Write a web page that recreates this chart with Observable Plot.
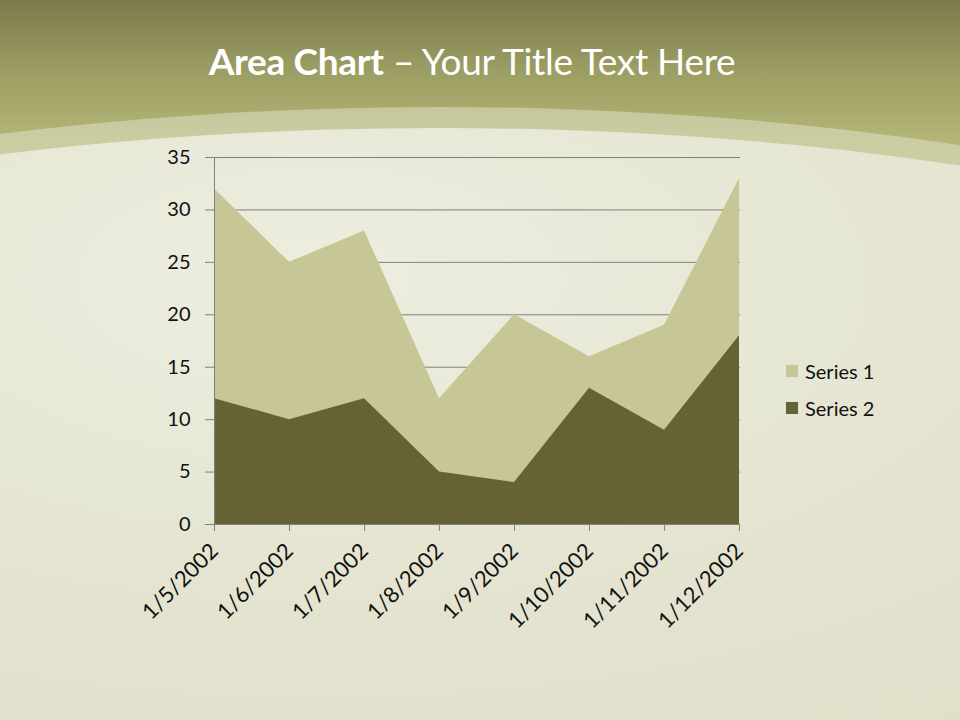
<!DOCTYPE html>
<html><head><meta charset="utf-8">
<script src="https://cdn.jsdelivr.net/npm/d3@7"></script>
<script src="https://cdn.jsdelivr.net/npm/@observablehq/plot@0.6"></script>
<style>
html,body{margin:0;padding:0;}
#page{position:relative;width:960px;height:720px;overflow:hidden;
 background:linear-gradient(180deg,#7b7a4d 0px,#9c9d62 70px,#b3b677 140px,#bcbf80 200px);font-family:Lato,"Open Sans",sans-serif;}
.arc{position:absolute;border-radius:50%;}
#arcOuter{left:-780px;top:107px;width:2440px;height:800px;background:rgba(222,223,196,0.55);}
#arcInner{left:-760px;top:128px;width:2400px;height:760px;
 background:radial-gradient(ellipse at 45% 20%,#edeedf 0%,#e3e3cf 40%,#d8d8c2 100%);}
#title{position:absolute;top:38px;left:0;width:944px;text-align:center;color:#fff;font-size:37px;letter-spacing:-0.3px;}
#title b{font-weight:700;}
#chart{position:absolute;left:0;top:0;}
#legend{position:absolute;left:786px;top:352px;font-size:20px;color:#111;}
.li{display:flex;align-items:center;height:37px;}
.sw{width:12px;height:12px;margin-right:7px;}
</style></head>
<body><div id="page">
<div class="arc" id="arcOuter"></div>
<div class="arc" id="arcInner"></div>
<div id="title"><b>Area Chart</b> – Your Title Text Here</div>
<div id="chart"></div>
<div id="legend"></div>
</div>
<script>
const categories = ["1/5/2002","1/6/2002","1/7/2002","1/8/2002","1/9/2002","1/10/2002","1/11/2002","1/12/2002"];
const series1 = [32, 25, 28, 12, 20, 16, 19, 33];
const series2 = [12, 10, 12, 5, 4, 13, 9, 18];
const seriesNames = ["Series 1", "Series 2"];
const seriesColors = ["#c6c696", "#656236"];
const yTicks = [0,5,10,15,20,25,30,35];

const rows = [];
[series1, series2].forEach((vals, si) => vals.forEach((v, i) => rows.push({date: categories[i], value: v, series: seriesNames[si]})));

const chart = Plot.plot({
  width: 960, height: 720,
  marginLeft: 212, marginRight: 220, marginTop: 157, marginBottom: 196,
  style: {background: "transparent", fontFamily: "Lato, 'Open Sans', sans-serif", fontSize: "20px", color: "#111"},
  x: {type: "point", domain: categories, padding: 0, label: null},
  y: {domain: [0, 35], ticks: yTicks, label: null},
  color: {domain: seriesNames, range: seriesColors},
  marks: [
    Plot.gridY(yTicks, {stroke: "#808080", strokeOpacity: 1, strokeWidth: 1}),
    Plot.areaY(rows.filter(d => d.series === "Series 1"), {x: "date", y: "value", fill: "series", fillOpacity: 1}),
    Plot.areaY(rows.filter(d => d.series === "Series 2"), {x: "date", y: "value", fill: "series", fillOpacity: 1}),
    Plot.ruleX([categories[0]], {stroke: "#808080"}),
    Plot.ruleY([0], {stroke: "#808080"}),
    Plot.axisY(yTicks, {tickSize: 7, tickPadding: 15, stroke: "#808080", fill: "#111", fontSize: 20}),
    Plot.axisX(categories, {tickSize: 7, tickRotate: -45, tickPadding: 16, stroke: "#808080", fill: "#111", fontSize: 22, textAnchor: "end"})
  ]
});
document.getElementById("chart").appendChild(chart);

const leg = document.getElementById("legend");
seriesNames.forEach((n, i) => {
  const d = document.createElement("div"); d.className = "li";
  d.innerHTML = `<span class="sw" style="background:${seriesColors[i]}"></span><span>${n}</span>`;
  leg.appendChild(d);
});
</script>
</body></html>
